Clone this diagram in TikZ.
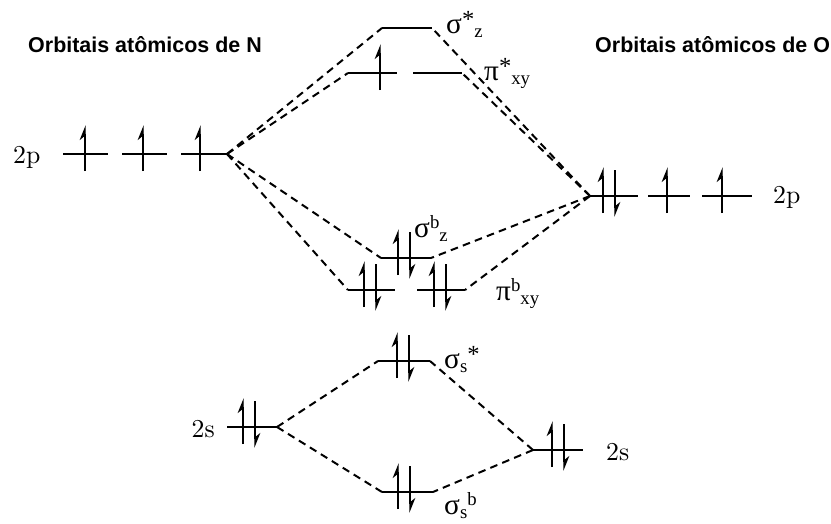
\documentclass[tikz,border=0pt]{standalone}
\usepackage{fontspec}
\usepackage{tikz}
\usetikzlibrary{arrows.meta}
\newfontfamily\titlefont{Liberation Sans}
\newfontfamily\labfont{Liberation Serif}
\newfontfamily\numfont{lmroman10-regular.otf}

% electrons: half arrows up / down, and a paired couple
\newcommand{\elup}[2]{\draw[spin] (#1,#2+17) -- (#1,#2-29);}
\newcommand{\eldown}[2]{\draw[spin] (#1,#2-26) -- (#1,#2+21);}
\newcommand{\elpair}[2]{\elup{#1}{#2}\eldown{#1+12}{#2}}
% raised / lowered indices of the orbital names
\newcommand{\hi}[1]{\raisebox{7pt}{\fontsize{16}{17}\selectfont #1}}
\newcommand{\lo}[1]{\raisebox{-4pt}{\fontsize{16}{17}\selectfont #1}}
\newcommand{\astr}{\raisebox{5pt}{\fontsize{21}{22}\selectfont *}}

\begin{document}
\begin{tikzpicture}[x=0.03cm,y=-0.03cm,
   lvl/.style={line width=1.6pt},
   spin/.style={line width=1.2pt,-{Stealth[left,length=4mm,width=3.2mm]}},
   mix/.style={line width=1.7pt,dash pattern=on 6.5pt off 4.5pt},
   ttl/.style={font=\titlefont\bfseries\fontsize{18.3}{20}\selectfont,anchor=base west,inner sep=0pt},
   lab/.style={font=\numfont\fontsize{22}{24}\selectfont,inner sep=0pt,anchor=base west},
   mo/.style={font=\labfont\fontsize{25}{27}\selectfont,inner sep=0pt,anchor=base west}]
  \useasboundingbox (0,0) rectangle (831,523);

  % titles
  \node[ttl] (tN) at (28,52) {Orbitais atômicos de N};
  \node[ttl] (tO) at (595,52) {Orbitais atômicos de O};

  % N 2p
  \draw[lvl] (63,154) -- (108,154);
  \draw[lvl] (122,154) -- (167,154);
  \draw[lvl] (181,154) -- (227,154) coordinate (N2p);
  \elup{85}{154} \elup{143}{154} \elup{200}{154}
  \node[lab] (lN2p) at (13,163) {2p};

  % O 2p
  \draw[lvl] (590,196) coordinate (O2p) -- (638,196);
  \draw[lvl] (648,196) -- (690,196);
  \draw[lvl] (702,196) -- (752,196);
  \elpair{603}{196} \elup{667}{196} \elup{722}{196}
  \node[lab] (lO2p) at (773,203) {2p};

  % sigma* z
  \draw[lvl] (382,28) coordinate (azL) -- (432,28) coordinate (azR);
  \node[mo] (lsz) at (446,33) {σ\astr\lo{z}};

  % pi* xy
  \draw[lvl] (348,73) coordinate (apL) -- (397,73);
  \draw[lvl] (413,73) -- (462,73) coordinate (apR);
  \elup{380}{73}
  \node[mo] (lpxy) at (484,80) {π\astr\lo{xy}};

  % sigma b z
  \draw[lvl] (381,258) coordinate (bzL) -- (431,258) coordinate (bzR);
  \elpair{398}{258}
  \node[mo] (lbz) at (414,237) {σ\hi{b}\lo{z}};

  % pi b xy
  \draw[lvl] (348,290) coordinate (bpL) -- (395,290);
  \draw[lvl] (417,290) -- (465,290) coordinate (bpR);
  \elpair{364}{290} \elpair{434}{290}
  \node[mo] (lbp) at (496,300) {π\hi{b}\lo{xy}};

  % sigma s *
  \draw[lvl] (378,361) coordinate (asL) -- (430,361) coordinate (asR);
  \elpair{397}{361}
  \node[mo] (las) at (444,368) {σ\lo{s}\astr};

  % N 2s
  \draw[lvl] (227,427) -- (277,427) coordinate (N2s);
  \elpair{243}{427}
  \node[lab,anchor=base east] (lN2s) at (215,437) {2s};

  % O 2s
  \draw[lvl] (533,450) coordinate (O2s) -- (583,450);
  \elpair{552}{450}
  \node[lab] (lO2s) at (606,460) {2s};

  % sigma s b
  \draw[lvl] (382,492) coordinate (bsL) -- (433,492) coordinate (bsR);
  \elpair{398}{492}
  \node[mo] (lbs) at (444,514) {σ\lo{s}\hi{b}};

  % mixing lines
  \draw[mix] (N2p) -- (azL);
  \draw[mix] (N2p) -- (apL);
  \draw[mix] (N2p) -- (bzL);
  \draw[mix] (N2p) -- (bpL);
  \draw[mix] (O2p) -- (azR);
  \draw[mix] (O2p) -- (apR);
  \draw[mix] (O2p) -- (bzR);
  \draw[mix] (O2p) -- (bpR);
  \draw[mix] (N2s) -- (asL);
  \draw[mix] (N2s) -- (bsL);
  \draw[mix] (O2s) -- (asR);
  \draw[mix] (O2s) -- (bsR);
\end{tikzpicture}
\end{document}
